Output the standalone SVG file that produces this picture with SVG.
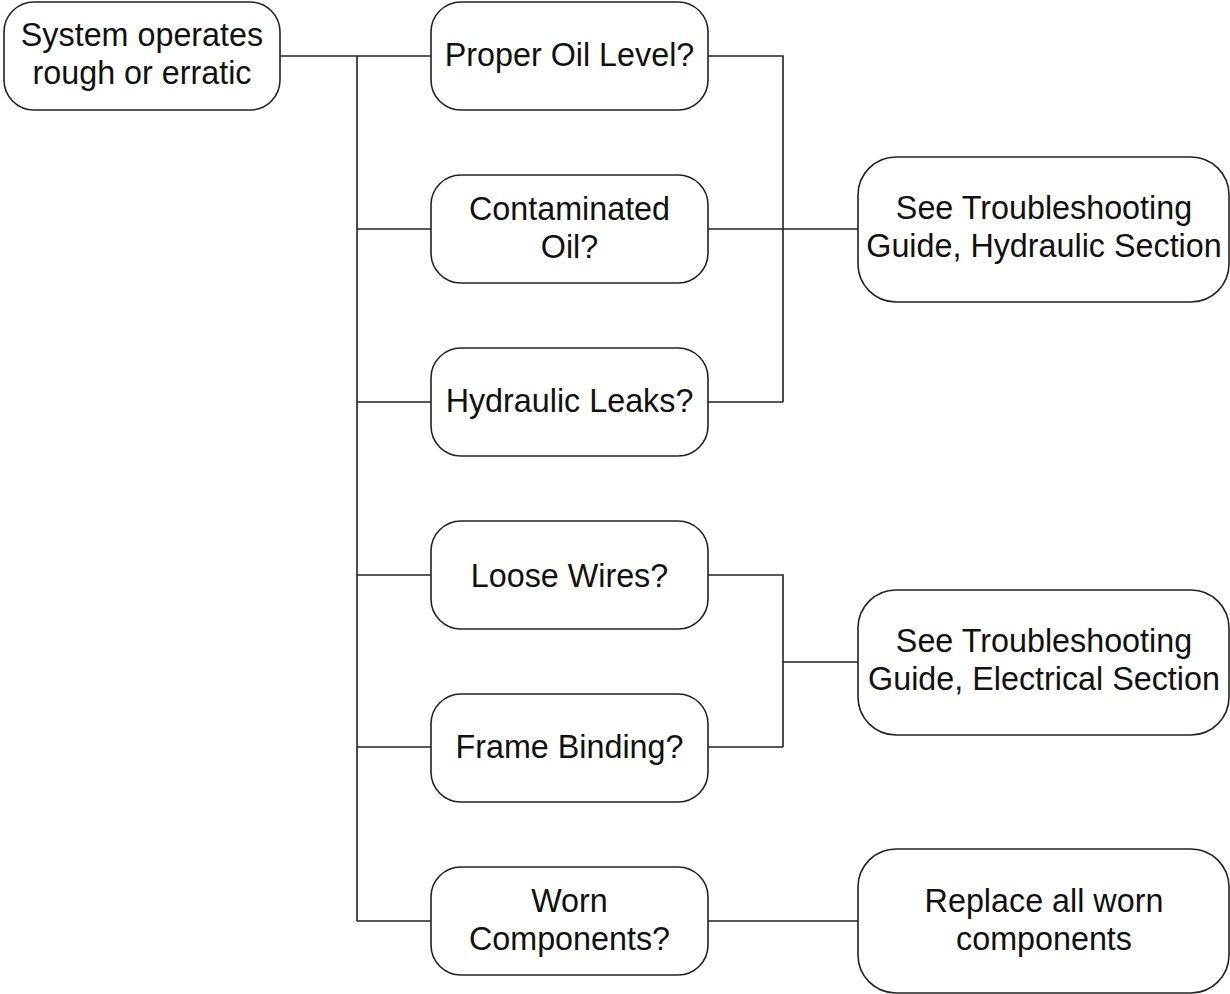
<svg xmlns="http://www.w3.org/2000/svg" width="1230" height="994" viewBox="0 0 1230 994">
<style>
.box{fill:#fff;stroke:#222;stroke-width:1.6}
.t{font-family:"Liberation Sans",Arial,sans-serif;font-size:32.3px;fill:#111;text-anchor:middle}
.c{fill:none;stroke:#222;stroke-width:1.6}
</style>
<rect width="1230" height="994" fill="#fff"/>
<g id="connectors">
<path class="c" d="M280,56H431M357,56V921M357,229H431M357,402H431M357,575H431M357,747H431M357,921H431"/>
<path class="c" d="M708,56H783V402M708,229H858M708,402H783"/>
<path class="c" d="M708,575H783V747M708,747H783M783,662H858"/>
<path class="c" d="M708,921H858"/>
</g>
<g id="start"><rect class="box" x="4" y="2" width="276" height="108" rx="30"/><text class="t" x="142" y="46">System operates</text><text class="t" x="142" y="84">rough or erratic</text></g>
<g id="q1"><rect class="box" x="431" y="2" width="277" height="108" rx="30"/><text class="t" x="569.5" y="66">Proper Oil Level?</text></g>
<g id="q2"><rect class="box" x="431" y="175" width="277" height="108" rx="30"/><text class="t" x="569.5" y="220">Contaminated</text><text class="t" x="569.5" y="258">Oil?</text></g>
<g id="q3"><rect class="box" x="431" y="348" width="277" height="108" rx="30"/><text class="t" x="569.5" y="412">Hydraulic Leaks?</text></g>
<g id="q4"><rect class="box" x="431" y="521" width="277" height="108" rx="30"/><text class="t" x="569.5" y="587">Loose Wires?</text></g>
<g id="q5"><rect class="box" x="431" y="694" width="277" height="108" rx="30"/><text class="t" x="569.5" y="758">Frame Binding?</text></g>
<g id="q6"><rect class="box" x="431" y="867" width="277" height="108" rx="30"/><text class="t" x="569.5" y="912">Worn</text><text class="t" x="569.5" y="950">Components?</text></g>
<g id="r1"><rect class="box" x="858" y="157" width="371" height="145" rx="38"/><text class="t" x="1044" y="219">See Troubleshooting</text><text class="t" x="1044" y="257">Guide, Hydraulic Section</text></g>
<g id="r2"><rect class="box" x="858" y="590" width="371" height="145" rx="38"/><text class="t" x="1044" y="652">See Troubleshooting</text><text class="t" x="1044" y="690">Guide, Electrical Section</text></g>
<g id="r3"><rect class="box" x="858" y="849" width="371" height="144" rx="38"/><text class="t" x="1044" y="912">Replace all worn</text><text class="t" x="1044" y="950">components</text></g>
</svg>
